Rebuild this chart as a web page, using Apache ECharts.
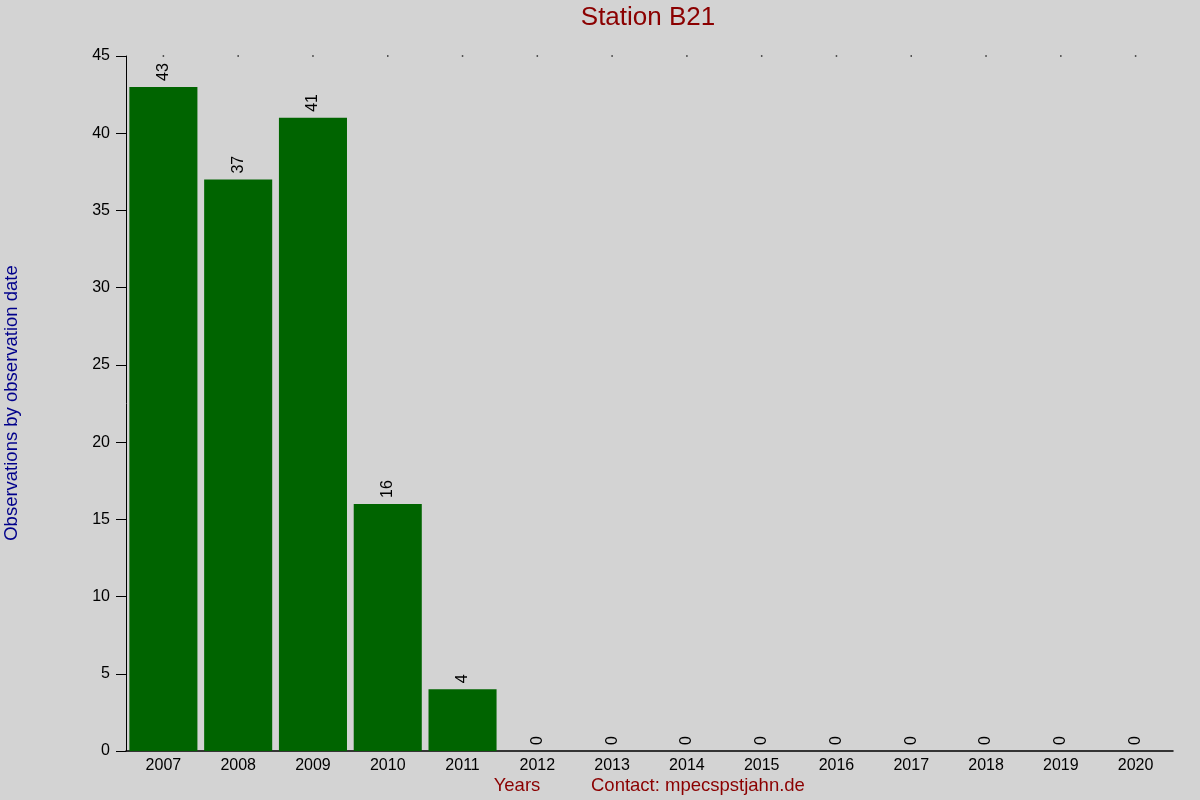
<!DOCTYPE html>
<html><head><meta charset="utf-8">
<script src="https://cdn.jsdelivr.net/npm/echarts@6/dist/echarts.min.js"></script>
<style>html,body{margin:0;padding:0;background:#d3d3d3}#c{width:1200px;height:800px}</style>
</head><body><div id="c"></div>
<script>
const years = ['2007','2008','2009','2010','2011','2012','2013','2014','2015','2016','2017','2018','2019','2020'];
const observations = [43, 37, 41, 16, 4, 0, 0, 0, 0, 0, 0, 0, 0, 0];
const yTicks = {min: 0, max: 45, interval: 5};
const topDots = [45, 45, 45, 45, 45, 45, 45, 45, 45, 45, 45, 45, 45, 45];

const chart = echarts.init(document.getElementById('c'));
chart.setOption({
  backgroundColor: '#d3d3d3',
  animation: false,
  textStyle: {fontFamily: 'Liberation Sans, Arial, sans-serif'},
  grid: {left: 126, right: 27, top: 56, bottom: 49, containLabel: false},
  graphic: [
    {type: 'text', x: 648, y: 5, style: {text: 'Station B21', fill: '#8b0000', font: '26px Liberation Sans', textAlign: 'center'}},
    {type: 'text', x: 517, y: 776, style: {text: 'Years', fill: '#8b0000', font: '18.5px Liberation Sans', textAlign: 'center'}},
    {type: 'text', x: 591, y: 776, style: {text: 'Contact: mpecspstjahn.de', fill: '#8b0000', font: '18.5px Liberation Sans'}},
    {type: 'text', x: 2, y: 403, rotation: Math.PI / 2, style: {text: 'Observations by observation date', fill: '#00008b', font: '18.5px Liberation Sans', textAlign: 'center', textVerticalAlign: 'top'}}
  ],
  xAxis: {
    type: 'category',
    data: years,
    axisLine: {show: true, lineStyle: {color: '#000', width: 1.5}},
    axisTick: {show: false},
    axisLabel: {color: '#000', fontSize: 16, margin: 7, interval: 0}
  },
  yAxis: {
    type: 'value',
    min: yTicks.min, max: yTicks.max, interval: yTicks.interval,
    axisLine: {show: true, lineStyle: {color: '#000', width: 1}},
    axisTick: {show: true, length: 10, lineStyle: {color: '#000'}},
    axisLabel: {color: '#000', fontSize: 16, margin: 16},
    splitLine: {show: false}
  },
  series: [
    {
      type: 'bar',
      data: observations,
      barCategoryGap: '9%',
      itemStyle: {color: '#006400'},
      label: {
        show: true, position: 'top', rotate: 90, align: 'left', verticalAlign: 'middle',
        distance: 6, color: '#000', fontSize: 16
      }
    },
    {
      type: 'scatter',
      data: topDots,
      symbol: 'rect',
      symbolSize: 1.5,
      itemStyle: {color: '#000'},
      z: 1
    }
  ]
});
</script></body></html>
